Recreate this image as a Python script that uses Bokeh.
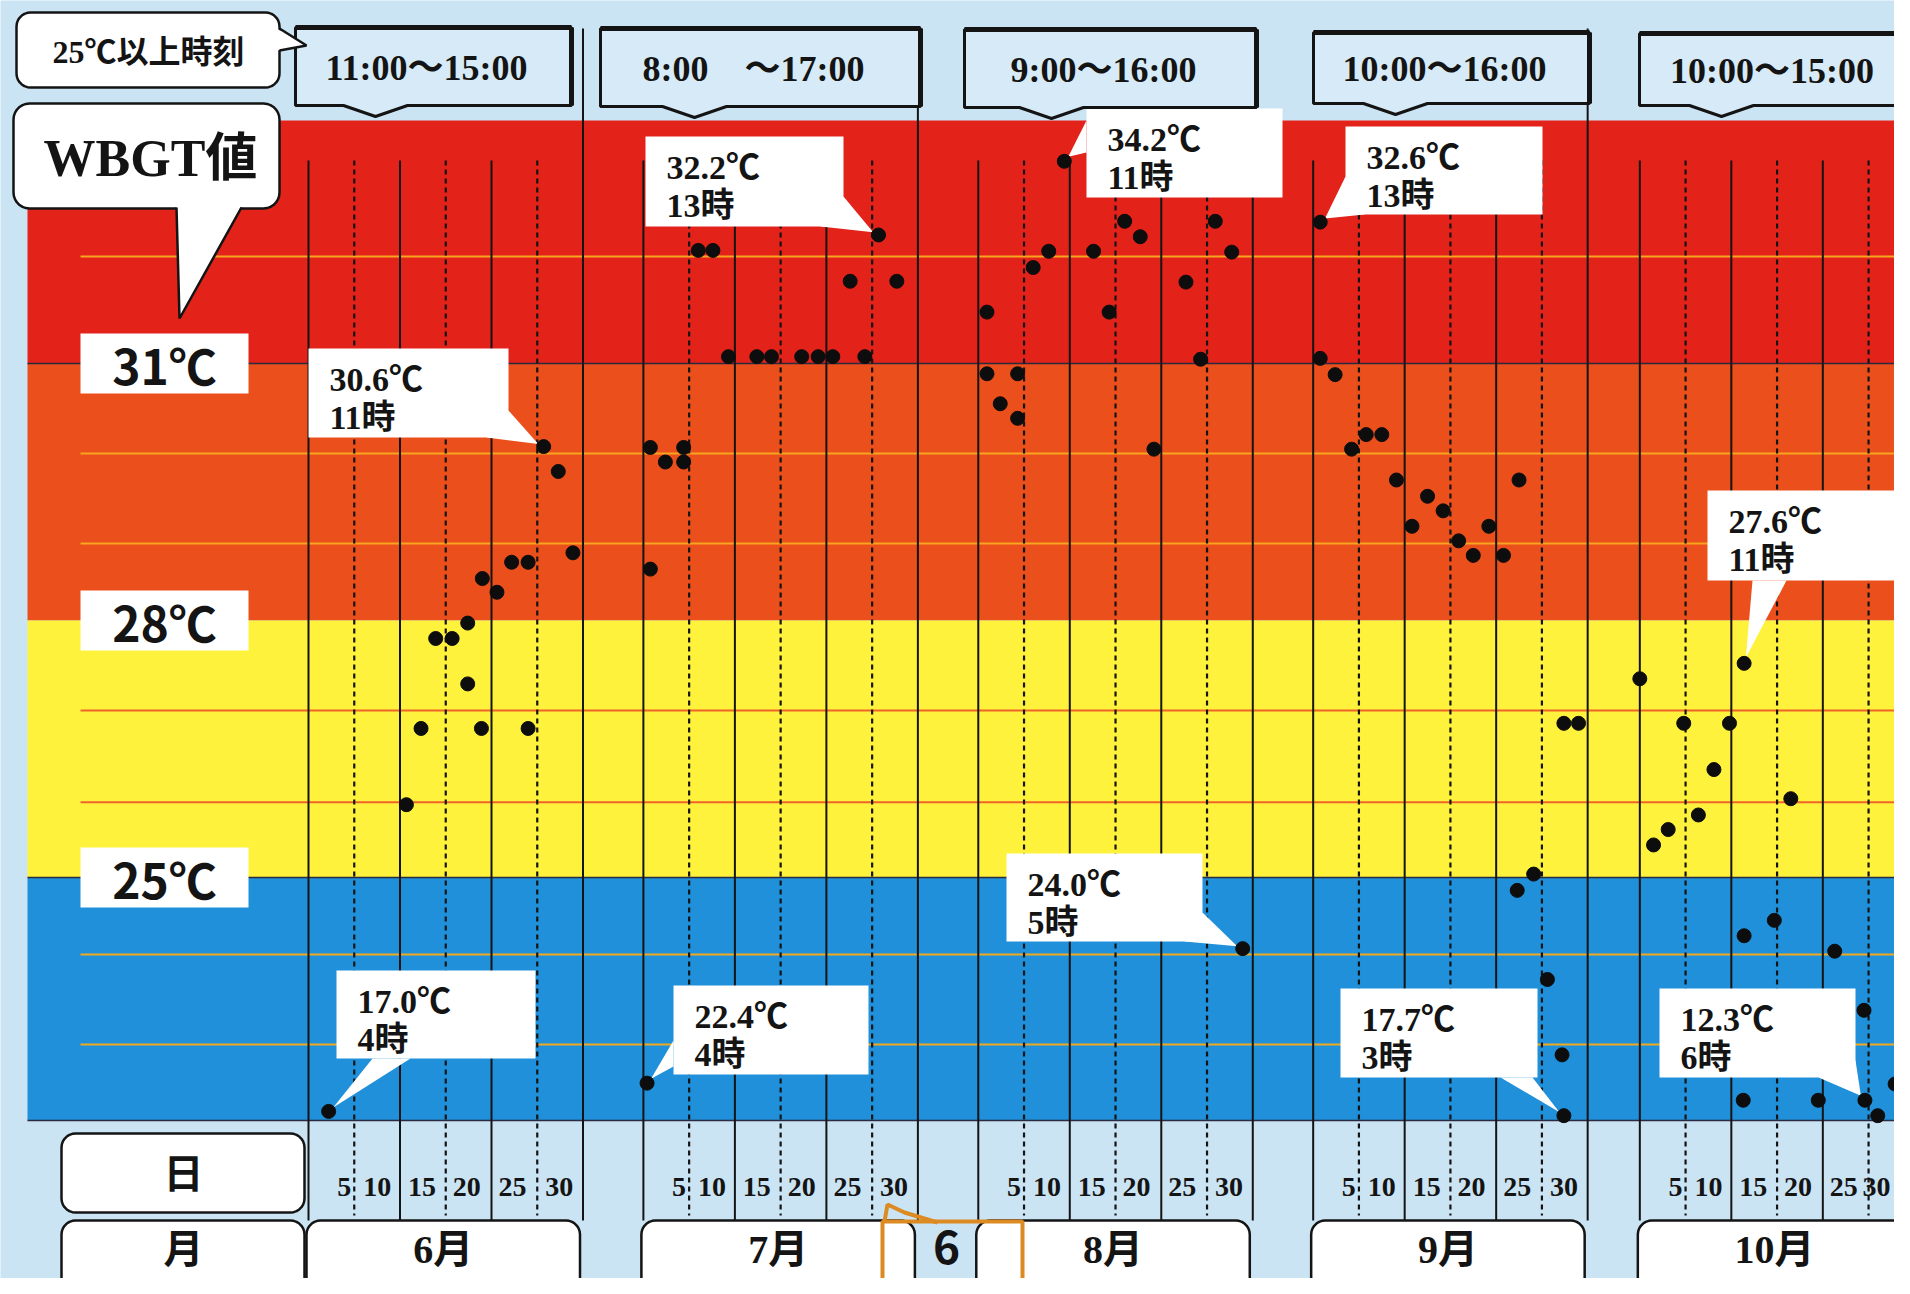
import numpy as np
from bokeh.plotting import figure
from bokeh.models import Range1d
from bokeh.core.properties import value
from bokeh.embed import file_html
from bokeh.resources import INLINE

# ---------------- data ----------------
months = ["6月", "7月", "8月", "9月", "10月"]
time_ranges = ["11:00～15:00", "8:00　～17:00", "9:00～16:00", "10:00～16:00", "10:00～15:00"]
day_ticks = ["5", "10", "15", "20", "25", "30"]
thresholds = [31, 28, 25]
threshold_labels = ["31℃", "28℃", "25℃"]

jun_day = [2.2, 10.7, 12.3, 13.9, 15.7, 17.4, 17.4, 18.9, 19.0, 20.6, 22.2, 24.0, 24.0, 25.7, 27.3, 28.9]
jun_t = [22.27, 25.85, 26.74, 27.79, 27.79, 27.97, 27.26, 26.74, 28.49, 28.33, 28.68, 28.68, 26.74, 30.03, 29.74, 28.79]

jul_day = [0.4, 0.76, 0.76, 2.4, 4.4, 4.4, 6.0, 7.6, 9.3, 12.4, 14.0, 17.3, 19.1, 20.7, 22.6, 24.2, 25.7, 27.7]
jul_t = [22.6, 30.02, 28.6, 29.85, 30.02, 29.85, 32.32, 32.32, 31.08, 31.08, 31.08, 31.08, 31.08, 31.08, 31.96, 31.08, 32.5, 31.96]

aug_day = [0.95, 0.95, 2.4, 4.3, 4.3, 6.0, 7.7, 9.4, 12.6, 14.3, 16.0, 17.7, 19.2, 22.7, 24.3, 25.9, 27.7, 28.9]
aug_t = [31.6, 30.88, 30.53, 30.88, 30.36, 32.12, 32.31, 33.36, 32.31, 31.6, 32.66, 32.48, 30.0, 31.95, 31.05, 32.66, 32.3, 24.17]

sep_day = [0.77, 0.77, 2.4, 4.2, 5.8, 7.5, 9.1, 10.8, 12.5, 14.2, 15.9, 17.5, 19.2, 20.8, 22.5, 22.3, 24.1, 25.6, 27.2, 27.4, 27.4, 29.0]
sep_t = [32.65, 31.06, 30.87, 30.0, 30.17, 30.17, 29.64, 29.1, 29.45, 29.28, 28.93, 28.76, 29.1, 28.76, 29.64, 24.85, 25.04, 23.81, 22.93, 22.22, 26.8, 26.8]

oct_day = [0.0, 1.5, 3.1, 4.8, 6.4, 8.1, 9.8, 11.4, 11.4, 11.3, 14.7, 16.5, 19.5, 21.3, 24.5, 24.6, 26.0, 27.9, 29.2]
oct_t = [27.32, 25.38, 25.56, 26.8, 25.73, 26.26, 26.8, 27.5, 24.32, 22.4, 24.5, 25.92, 22.4, 24.14, 23.45, 22.4, 22.22, 22.59, 22.4]

max_temp = [30.6, 32.2, 34.2, 32.6, 27.6]
max_hour = [11, 13, 11, 13, 11]
max_idx = [13, 16, 7, 0, 7]
min_temp = [17.0, 22.4, 24.0, 17.7, 12.3]
min_hour = [4, 4, 5, 3, 6]
min_idx = [0, 0, 17, 19, 15]

month_days = [jun_day, jul_day, aug_day, sep_day, oct_day]
month_temps = [jun_t, jul_t, aug_t, sep_t, oct_t]

# ---------------- layout ----------------
W, H = 1894, 1278
PAGE = 0
X0_PX, PX_PER_DAY = 308.0, 9.15
Y31_PX, PX_PER_DEG = 363.0, 85.67
MONTH_OFF = [0.0, 36.6, 73.2, 109.8, 145.5]
BG = "#cbe4f4"
SERIF = value("Liberation Serif, Noto Sans CJK JP")
SANS = value("Noto Sans CJK JP")
INK = "#141414"


def x_to_px(x):
    return X0_PX + x * PX_PER_DAY


def t_to_px(t):
    return Y31_PX + (31 - t) * PX_PER_DEG


def px_to_t(py):
    return 31 - (py - Y31_PX) / PX_PER_DEG


xr = Range1d((PAGE - X0_PX) / PX_PER_DAY, (PAGE + W - X0_PX) / PX_PER_DAY)
yr = Range1d(px_to_t(PAGE + H), px_to_t(PAGE))

p = figure(width=W, height=H, x_range=xr, y_range=yr, output_backend="svg",
           toolbar_location=None, min_border=0, x_axis_location=None,
           y_axis_location=None, background_fill_color=BG, border_fill_color=BG,
           outline_line_color=None)
p.grid.visible = False
p.extra_x_ranges = {"px": Range1d(PAGE, PAGE + W)}
p.extra_y_ranges = {"px": Range1d(PAGE + H, PAGE)}
PX = dict(x_range_name="px", y_range_name="px")


def rrect(x0, y0, x1, y1, r, n=8):
    xs, ys = [], []
    corners = [(x1 - r, y0 + r, -90, 0), (x1 - r, y1 - r, 0, 90),
               (x0 + r, y1 - r, 90, 180), (x0 + r, y0 + r, 180, 270)]
    for cx, cy, a0, a1 in corners:
        for a in np.linspace(np.radians(a0), np.radians(a1), n):
            xs.append(cx + r * np.cos(a))
            ys.append(cy + r * np.sin(a))
    return xs, ys


# ---------------- bands ----------------
band_top_t = px_to_t(120)
band_bot_t = px_to_t(1120)
edges = [band_top_t] + thresholds + [band_bot_t]
band_colors = ["#e3221a", "#ea4f1c", "#fff23c", "#1f90d9"]
for i, c in enumerate(band_colors):
    p.quad(left=27, right=1915, top=edges[i], bottom=edges[i + 1], fill_color=c,
           line_color=None, x_range_name="px")

# 1-degree guide lines
grid_levels = [32.25, 29.95, 28.9, 26.95, 25.88, 24.1, 23.05]
grid_colors = ["#f7a51e", "#f7a51e", "#f7a51e", "#f0642a", "#f0642a", "#f2a91e", "#f2a91e"]
for lv, c in zip(grid_levels, grid_colors):
    p.segment(x0=80, x1=1915, y0=lv, y1=lv, line_color=c, line_width=2,
              x_range_name="px")
for lv in [31, 25, band_bot_t]:
    p.segment(x0=27, x1=1915, y0=lv, y1=lv, line_color="#2a2a40", line_width=1.4,
              x_range_name="px")

# ---------------- vertical day lines ----------------
for off in MONTH_OFF:
    for d in [0, 10, 20]:
        p.segment(x0=off + d, x1=off + d, y0=160, y1=1220, line_color=INK,
                  line_width=2, y_range_name="px")
    p.segment(x0=off + 30, x1=off + 30, y0=28, y1=1220, line_color=INK,
              line_width=2, y_range_name="px")
    for d in [5, 15, 25]:
        p.segment(x0=off + d, x1=off + d, y0=160, y1=1215, line_color=INK,
                  line_width=2.2, line_dash="5 4", y_range_name="px")

# ---------------- threshold labels ----------------
p.quad(left=80, right=248, top=[t + 0.35 for t in thresholds],
       bottom=[t - 0.35 for t in thresholds], fill_color="white", line_color=None,
       x_range_name="px")
p.text(x=164, y=thresholds, text=threshold_labels, text_font=SANS,
       text_font_style="bold", text_font_size="48px", text_align="center",
       text_baseline="middle", text_color=INK, x_range_name="px")

# ---------------- callouts ----------------
max_boxes = [(308, 348, 508, 437), (645, 136, 843, 226), (1086, 108, 1282, 197),
             (1345, 126, 1542, 214), (1707, 490, 1903, 580)]
max_bases = [[(508, 410), (486, 437)], [(843, 196), (820, 226)], [(1086, 120), (1086, 152)],
             [(1345, 176), (1364, 214)], [(1752, 580), (1786, 580)]]
min_boxes = [(336, 970, 535, 1058), (673, 985, 868, 1074), (1006, 853, 1202, 941),
             (1340, 988, 1537, 1077), (1659, 988, 1855, 1077)]
min_bases = [[(372, 1058), (410, 1058)], [(673, 1040), (673, 1066)], [(1202, 912), (1184, 941)],
             [(1500, 1077), (1532, 1077)], [(1818, 1077), (1855, 1060)]]


def callout(box, base, tip, lines):
    x0, y0, x1, y1 = box
    mx = (base[0][0] + base[1][0]) / 2
    my = (base[0][1] + base[1][1]) / 2
    dx, dy = mx - tip[0], my - tip[1]
    dist = max(np.hypot(dx, dy), 1)
    tx, ty = tip[0] + dx / dist * 6, tip[1] + dy / dist * 6
    p.patch([base[0][0], base[1][0], tx], [base[0][1], base[1][1], ty],
            fill_color="white", line_color=None, **PX)
    p.quad(left=x0, right=x1, top=y0, bottom=y1, fill_color="white",
           line_color=None, **PX)
    p.text(x=[x0 + 21, x0 + 21], y=[y0 + 12, y0 + 50], text=lines, text_font=SERIF,
           text_font_style="bold", text_font_size="34px", text_baseline="top",
           text_color=INK, **PX)


for m in range(5):
    off = MONTH_OFF[m]
    i = max_idx[m]
    tip = (x_to_px(off + month_days[m][i]), t_to_px(month_temps[m][i]))
    callout(max_boxes[m], max_bases[m], tip, [f"{max_temp[m]:.1f}℃", f"{max_hour[m]}時"])
    i = min_idx[m]
    tip = (x_to_px(off + month_days[m][i]), t_to_px(month_temps[m][i]))
    callout(min_boxes[m], min_bases[m], tip, [f"{min_temp[m]:.1f}℃", f"{min_hour[m]}時"])

# ---------------- dots ----------------
all_x, all_y = [], []
for off, d, t in zip(MONTH_OFF, month_days, month_temps):
    all_x += [off + v for v in d]
    all_y += t
p.scatter(x=all_x, y=all_y, size=14, fill_color="#0d0d0d", line_color="#0d0d0d")

# ---------------- header time boxes ----------------
hdr_boxes = [(295, 27, 571, 105, 375), (600, 28, 920, 106, 694), (964, 29, 1256, 107, 1051),
             (1313, 32, 1589, 103, 1395), (1639, 33, 1918, 105, 1721)]
for (x0, y0, x1, y1, nx), txt in zip(hdr_boxes, time_ranges):
    xs = [x0, x1, x1, nx + 32, nx, nx - 32, x0]
    ys = [y0, y0, y1, y1, y1 + 11, y1, y1]
    p.patch(xs, ys, fill_color="#d6ebf7", line_color=INK, line_width=3, **PX)
    p.segment(x0=[x0, x1], y0=[y0, y0], x1=[x1, x1], y1=[y0, y1], line_color=INK,
              line_width=5, **PX)
    p.text(x=(x0 + x1) / 2 - 7, y=(y0 + y1) / 2 + 1, text=[txt], text_font=SERIF,
           text_font_style="bold", text_font_size="36px", text_align="center",
           text_baseline="middle", text_color=INK, **PX)

# ---------------- title callouts ----------------
xs, ys = rrect(16, 12, 279, 87, 14)
p.patch(xs, ys, fill_color="white", line_color=INK, line_width=2.5, **PX)
p.patch([276, 276, 306], [28, 50, 45], fill_color="white", line_color=None, **PX)
p.line([279, 306, 279], [28, 45, 50], line_color=INK, line_width=2.5, **PX)
p.text(x=148, y=51, text=["25℃以上時刻"], text_font=SERIF, text_font_style="bold",
       text_font_size="32px", text_align="center", text_baseline="middle",
       text_color=INK, **PX)

xs, ys = rrect(13, 103, 279, 208, 16)
p.patch(xs, ys, fill_color="white", line_color=INK, line_width=2.5, **PX)
p.patch([176, 241, 179], [205, 205, 318], fill_color="white", line_color=None, **PX)
p.line([176, 179, 241], [207, 318, 207], line_color=INK, line_width=2.5, **PX)
p.text(x=150, y=158, text=["WBGT値"], text_font=SERIF, text_font_style="bold",
       text_font_size="52px", text_align="center", text_baseline="middle",
       text_color=INK, **PX)

# ---------------- date area ----------------
tick_pos = [3.9, 7.5, 12.4, 17.3, 22.3, 27.4]
for off in MONTH_OFF:
    xs_px = [min(x_to_px(off + d), W - 18) for d in tick_pos]
    p.text(x=xs_px, y=1186, text=day_ticks, text_font=SERIF,
           text_font_style="bold", text_font_size="28px", text_align="center",
           text_baseline="middle", text_color=INK, **PX)

for (y0, y1, lab, ty) in [(1133, 1212, "日", 1174), (1220, 1310, "月", 1249)]:
    xs, ys = rrect(61, y0, 304, y1, 14)
    p.patch(xs, ys, fill_color="white", line_color=INK, line_width=2.5, **PX)
    p.text(x=183, y=ty, text=[lab], text_font=SERIF,
           text_font_style="bold", text_font_size="40px", text_align="center",
           text_baseline="middle", text_color=INK, **PX)

for off, lab in zip(MONTH_OFF, months):
    x0 = x_to_px(off) - 2
    x1 = x_to_px(off + 30) - 3
    xs, ys = rrect(x0, 1220, x1, 1320, 14)
    p.patch(xs, ys, fill_color="white", line_color=INK, line_width=2.5, **PX)
    p.text(x=(x0 + x1) / 2, y=1249, text=[lab], text_font=SERIF,
           text_font_style="bold", text_font_size="40px", text_align="center",
           text_baseline="middle", text_color=INK, **PX)

# orange page-number marker
ORG = "#dc8a22"
p.line([882, 882, 1022, 1022], [1300, 1221, 1221, 1300], line_color=ORG,
       line_width=4, **PX)
p.line([884, 887, 904, 937], [1221, 1204, 1212, 1222], line_color=ORG,
       line_width=4, **PX)
p.text(x=946, y=1246, text=["6"], text_font=SANS, text_font_style="bold",
       text_font_size="46px", text_align="center", text_baseline="middle",
       text_color=INK, **PX)

open("out.html", "w").write(file_html(p, INLINE))
